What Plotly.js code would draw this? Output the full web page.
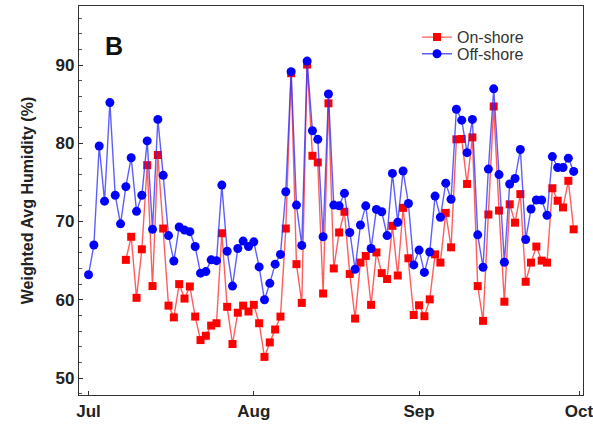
<!DOCTYPE html>
<html>
<head>
<meta charset="utf-8">
<script src="https://cdn.plot.ly/plotly-3.0.1.min.js"></script>
<style>html,body{margin:0;padding:0;background:#fff;}#chart{width:593px;height:425px;}</style>
</head>
<body>
<div id="chart"></div>
<script>
const dates = [
"2013-07-01","2013-07-02","2013-07-03","2013-07-04","2013-07-05","2013-07-06","2013-07-07","2013-07-08","2013-07-09","2013-07-10",
"2013-07-11","2013-07-12","2013-07-13","2013-07-14","2013-07-15","2013-07-16","2013-07-17","2013-07-18","2013-07-19","2013-07-20",
"2013-07-21","2013-07-22","2013-07-23","2013-07-24","2013-07-25","2013-07-26","2013-07-27","2013-07-28","2013-07-29","2013-07-30",
"2013-07-31","2013-08-01","2013-08-02","2013-08-03","2013-08-04","2013-08-05","2013-08-06","2013-08-07","2013-08-08","2013-08-09",
"2013-08-10","2013-08-11","2013-08-12","2013-08-13","2013-08-14","2013-08-15","2013-08-16","2013-08-17","2013-08-18","2013-08-19",
"2013-08-20","2013-08-21","2013-08-22","2013-08-23","2013-08-24","2013-08-25","2013-08-26","2013-08-27","2013-08-28","2013-08-29",
"2013-08-30","2013-08-31","2013-09-01","2013-09-02","2013-09-03","2013-09-04","2013-09-05","2013-09-06","2013-09-07","2013-09-08",
"2013-09-09","2013-09-10","2013-09-11","2013-09-12","2013-09-13","2013-09-14","2013-09-15","2013-09-16","2013-09-17","2013-09-18",
"2013-09-19","2013-09-20","2013-09-21","2013-09-22","2013-09-23","2013-09-24","2013-09-25","2013-09-26","2013-09-27","2013-09-28",
"2013-09-29","2013-09-30"];

const onShore = [
null,null,null,null,null,null,null,65.1,68.05,60.25,
66.45,77.2,61.75,78.5,69.1,59.25,57.75,62.0,60.15,61.7,
57.85,54.85,55.4,56.7,57.0,68.5,59.1,54.35,58.35,59.25,
58.5,59.35,57.0,52.7,54.55,56.2,57.85,69.1,88.95,64.55,
59.6,90.05,78.4,77.55,60.8,85.1,64.0,68.6,71.25,63.3,
57.6,64.75,65.6,59.35,66.05,63.4,62.65,69.45,63.1,71.75,
65.3,58.05,59.3,57.9,60.05,65.8,64.75,71.1,66.7,80.5,
80.55,74.8,80.75,61.75,57.3,70.9,84.7,71.4,59.75,72.2,
69.85,73.5,62.3,64.75,66.8,65.0,64.75,74.25,72.65,71.8,
75.2,69.0];

const offShore = [
63.2,67.0,79.65,72.6,85.2,73.35,69.7,74.45,78.15,71.3,
73.35,80.3,69.0,83.05,75.9,68.2,64.95,69.3,68.9,68.7,
66.8,63.4,63.6,65.1,65.0,74.65,66.2,61.75,66.55,67.5,
66.8,67.4,64.2,60.0,62.1,64.55,65.8,73.8,89.15,72.1,
66.95,90.5,81.6,80.5,68.05,86.3,72.1,72.0,73.6,68.6,
63.9,69.55,72.0,66.55,71.55,71.25,68.2,76.15,69.9,76.45,
72.3,64.45,66.35,63.5,66.1,73.25,70.55,74.9,72.85,84.35,
82.95,78.8,83.05,68.3,64.15,76.7,86.95,76.0,64.8,74.8,
75.5,79.2,67.7,71.6,72.75,72.75,70.8,78.3,76.9,76.9,
78.1,76.4];

const monthTicks = ["2013-07-01","2013-08-01","2013-09-01","2013-10-01"];
const monthLabels = ["Jul","Aug","Sep","Oct"];
const yTicks = [50,60,70,80,90];

const traces = [
  {x: dates, y: onShore, name: "On-shore", type: "scatter", mode: "lines+markers", legend: "legend",
   line: {color: "rgba(255,40,40,0.75)", width: 1.4},
   marker: {symbol: "square", size: 8, color: "#ff0000"}},
  {x: dates, y: offShore, name: "Off-shore", type: "scatter", mode: "lines+markers", legend: "legend2",
   line: {color: "rgba(40,40,255,0.75)", width: 1.4},
   marker: {symbol: "circle", size: 9, color: "#0000ff"}}
];

const tickFont = {family: "Liberation Sans, Arial, sans-serif", size: 17, color: "#222", weight: "bold"};
const legFont = {family: "Liberation Sans, Arial, sans-serif", size: 16, color: "#333"};

const layout = {
  width: 593, height: 425,
  margin: {l: 78.5, r: 9.7, t: 6, b: 30},
  paper_bgcolor: "#fff", plot_bgcolor: "#fff",
  showlegend: true,
  legend: {x: 0.6706, xanchor: "left", y: 0.9635, yanchor: "top", bgcolor: "rgba(0,0,0,0)",
           font: legFont, itemwidth: 30},
  legend2: {x: 0.6706, xanchor: "left", y: 0.9208, yanchor: "top", bgcolor: "rgba(0,0,0,0)",
           font: legFont, itemwidth: 30},
  xaxis: {type: "date", range: ["2013-06-29 05:00", "2013-10-01 18:00"],
          tickmode: "array", tickvals: monthTicks, ticktext: monthLabels,
          ticks: "inside", ticklen: 4, tickcolor: "#333", tickwidth: 1,
          ticklabeloverflow: "allow",
          showline: true, linecolor: "#333", linewidth: 1.2, mirror: true,
          showgrid: false, zeroline: false, tickfont: tickFont},
  yaxis: {range: [47.83, 97.54], tickmode: "array", tickvals: yTicks,
          ticks: "inside", ticklen: 4, tickcolor: "#333", tickwidth: 1,
          minor: {dtick: 2, ticks: "inside", ticklen: 2.5, tickcolor: "#555", showgrid: false},
          showline: true, linecolor: "#333", linewidth: 1.2, mirror: true,
          showgrid: false, zeroline: false, tickfont: tickFont,
          title: {text: "Weighted Avg Humidity (%)", standoff: 17,
                  font: {family: "Liberation Sans, Arial, sans-serif", size: 16, color: "#222", weight: "bold"}}},
  annotations: [
    {text: "B", xref: "paper", yref: "paper", x: 0.0703, y: 0.897, xanchor: "center", yanchor: "middle",
     showarrow: false, font: {family: "Liberation Sans, Arial, sans-serif", size: 25, color: "#111", weight: "bold"}}
  ]
};

Plotly.newPlot("chart", traces, layout, {displayModeBar: false, staticPlot: true});
</script>
</body>
</html>
